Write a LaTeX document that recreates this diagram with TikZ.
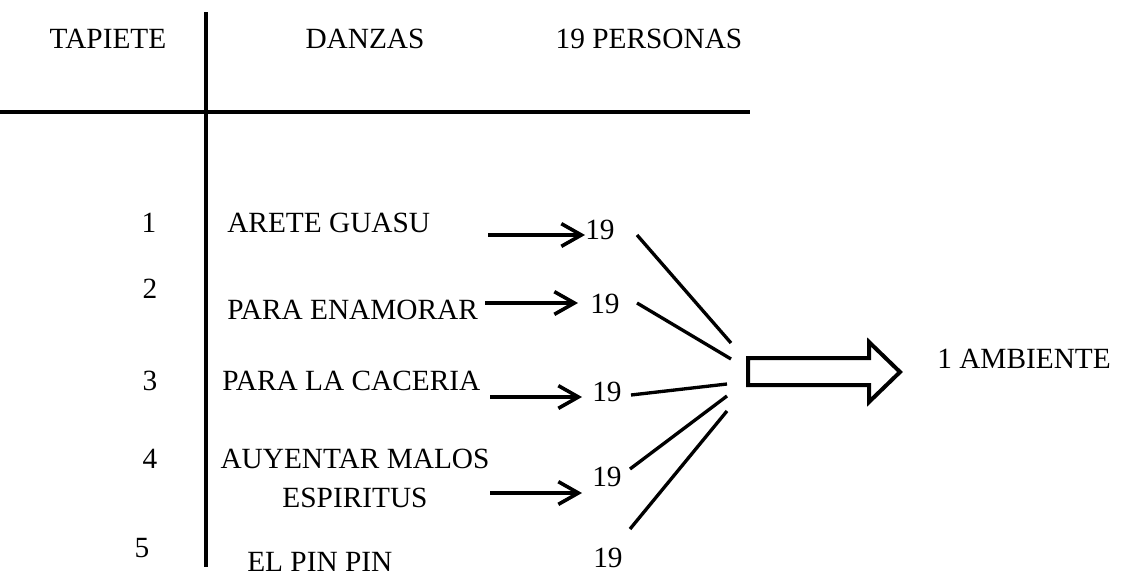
\documentclass[tikz,border=0pt]{standalone}
\usepackage{fontspec}
\setmainfont{Liberation Serif}
\usetikzlibrary{arrows.meta,positioning,calc}

\begin{document}
\begin{tikzpicture}[x=0.75pt,y=-0.75pt,
    txt/.style={inner sep=0pt,font=\fontsize{22}{29}\selectfont},
    rule/.style={line width=3pt},
    flecha/.style={line width=2.7pt,-{Straight Barb[length=15pt,width=17pt]}},
    rayo/.style={line width=2.5pt}]
  \useasboundingbox (0,0) rectangle (1128,575);

  % cabecera
  \node[txt,anchor=base] (tap) at (108,48) {TAPIETE};
  \node[txt,anchor=base] (dan) at (365,48) {DANZAS};
  \node[txt,anchor=base] (per) at (649,48) {19 PERSONAS};
  \draw[rule] (206,12) -- (206,567);
  \draw[rule] (0,112) -- (750,112);

  % numeros
  \node[txt,anchor=base] (k1) at (149,232) {1};
  \node[txt,anchor=base] (k2) at (150,298) {2};
  \node[txt,anchor=base] (k3) at (150,390) {3};
  \node[txt,anchor=base] (k4) at (150,468) {4};
  \node[txt,anchor=base] (k5) at (142,557) {5};

  % danzas
  \node[txt,anchor=base west] (d1) at (227,232) {ARETE GUASU};
  \node[txt,anchor=base west] (d2) at (227,319) {PARA ENAMORAR};
  \node[txt,anchor=base west] (d3) at (222,390) {PARA LA CACERIA};
  \node[txt,anchor=base] (d4) at (355,468) {AUYENTAR MALOS};
  \node[txt,anchor=base] (d4b) at (355,507) {ESPIRITUS};
  \node[txt,anchor=base west] (d5) at (247,571) {EL PIN PIN};

  % personas
  \node[txt,anchor=base west] (p1) at (585,239) {19};
  \node[txt,anchor=base west] (p2) at (590,313) {19};
  \node[txt,anchor=base west] (p3) at (592,401) {19};
  \node[txt,anchor=base west] (p4) at (592,486) {19};
  \node[txt,anchor=base west] (p5) at (593,567) {19};

  \coordinate (a1) at (488,235);
  \coordinate (a2) at (485,303);
  \coordinate (a3) at (490,397);
  \coordinate (a4) at (490,493);
  \draw[flecha] (a1) -- (a1 -| p1.west);
  \draw[flecha] (a2) -- ($(a2 -| p2.west)+(-12,0)$);
  \draw[flecha] (a3) -- ($(a3 -| p3.west)+(-10,0)$);
  \draw[flecha] (a4) -- ($(a4 -| p4.west)+(-10,0)$);

  % convergencia
  \coordinate (s1) at (637,235);  \coordinate (f1) at (731,343);
  \coordinate (s2) at (637,303);  \coordinate (f2) at (731,359);
  \coordinate (s3) at (631,395);  \coordinate (f3) at (727,384);
  \coordinate (s4) at (630,469);  \coordinate (f4) at (727,396);
  \coordinate (s5) at (630,529);  \coordinate (f5) at (727,411);
  \foreach \i in {1,...,5}
    \draw[rayo] (s\i) -- (f\i);

  % flecha hueca
  \draw[rule,line join=miter] (748,358) -- (869,358) -- (869,342) -- (900,372)
    -- (869,402) -- (869,385) -- (748,385) -- cycle;
  \node[txt,anchor=base west] (amb) at (937,368) {1 AMBIENTE};

\end{tikzpicture}
\end{document}
